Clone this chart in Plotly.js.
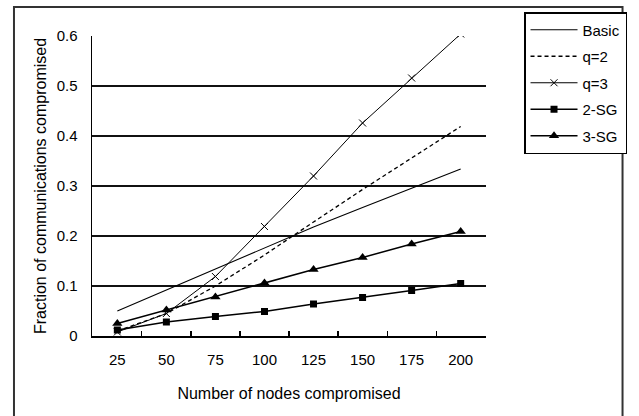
<!DOCTYPE html>
<html>
<head>
<meta charset="utf-8">
<script src="https://cdn.plot.ly/plotly-3.0.1.min.js"></script>
<style>html,body{margin:0;padding:0;background:#fff;}#chart{width:639px;height:416px;}</style>
</head>
<body>
<div id="chart"></div>
<script>
const categories = ["25","50","75","100","125","150","175","200"];
const basic = [0.050, 0.092, 0.134, 0.176, 0.218, 0.257, 0.296, 0.334];
const q2    = [0.010, 0.045, 0.100, 0.162, 0.228, 0.293, 0.356, 0.419];
const q3    = [0.008, 0.045, 0.119, 0.219, 0.320, 0.426, 0.516, 0.604];
const sg2   = [0.012, 0.028, 0.039, 0.049, 0.064, 0.077, 0.091, 0.105];
const sg3   = [0.025, 0.052, 0.078, 0.106, 0.133, 0.157, 0.184, 0.209];
const seriesNames = ["Basic","q=2","q=3","2-SG","3-SG"];

const font = "Liberation Sans, Arial, sans-serif";
const traces = [
  {x: categories, y: basic, name: seriesNames[0], mode: "lines", line: {color: "#000", width: 1.1}},
  {x: categories, y: q2, name: seriesNames[1], mode: "lines", line: {color: "#000", width: 1.3, dash: "4px,3px"}},
  {x: categories, y: q3, name: seriesNames[2], mode: "lines+markers", line: {color: "#000", width: 1},
    marker: {symbol: "x-thin", size: 7, line: {color: "#000", width: 1}}},
  {x: categories, y: sg2, name: seriesNames[3], mode: "lines+markers", line: {color: "#000", width: 1.5},
    marker: {symbol: "square", size: 7, color: "#000"}},
  {x: categories, y: sg3, name: seriesNames[4], mode: "lines+markers", line: {color: "#000", width: 1.5},
    marker: {symbol: "triangle-up", size: 9, color: "#000"}}
].map((t, i) => Object.assign(t, {type: "scatter", legendgroup: "g" + i}));

const layout = {
  width: 639, height: 416,
  margin: {l: 92, r: 143, t: 36, b: 80, pad: 0},
  paper_bgcolor: "#fff", plot_bgcolor: "#fff",
  font: {family: font, size: 15, color: "#000"},
  showlegend: true,
  legend: {
    x: 1.0965, y: 1.08, xanchor: "left", yanchor: "top",
    bordercolor: "#000", borderwidth: 1.5, bgcolor: "#fff",
    font: {family: font, size: 15, color: "#000"},
    traceorder: "grouped", tracegroupgap: 4, itemwidth: 47
  },
  xaxis: {
    type: "category", tickson: "boundaries", ticks: "inside", ticklen: 5, tickwidth: 1.2, tickcolor: "#000",
    showline: true, linecolor: "#000", linewidth: 1.5, showgrid: false, zeroline: false,
    ticklabelstandoff: 9, fixedrange: true,
    tickfont: {family: font, size: 15},
    title: {text: "Number of nodes compromised", font: {family: font, size: 16}, standoff: 21}
  },
  yaxis: {
    range: [0, 0.6], dtick: 0.1, tick0: 0, ticks: "", showline: true, linecolor: "#000", linewidth: 1.5,
    showgrid: true, gridcolor: "#111", gridwidth: 1.5, zeroline: false, ticklabelstandoff: 10,
    tickfont: {family: font, size: 15},
    title: {text: "Fraction of communications compromised", font: {family: font, size: 16}, standoff: 6}
  },
  shapes: [{
    type: "rect", xref: "paper", yref: "paper",
    x0: (12 - 92) / 404, x1: (636 - 92) / 404,
    y0: (336 - 430) / 300, y1: (336 - 7) / 300,
    line: {color: "#333", width: 2}, fillcolor: "rgba(0,0,0,0)", layer: "below"
  }]
};

Plotly.newPlot("chart", traces, layout, {staticPlot: true, displayModeBar: false});
</script>
</body>
</html>
